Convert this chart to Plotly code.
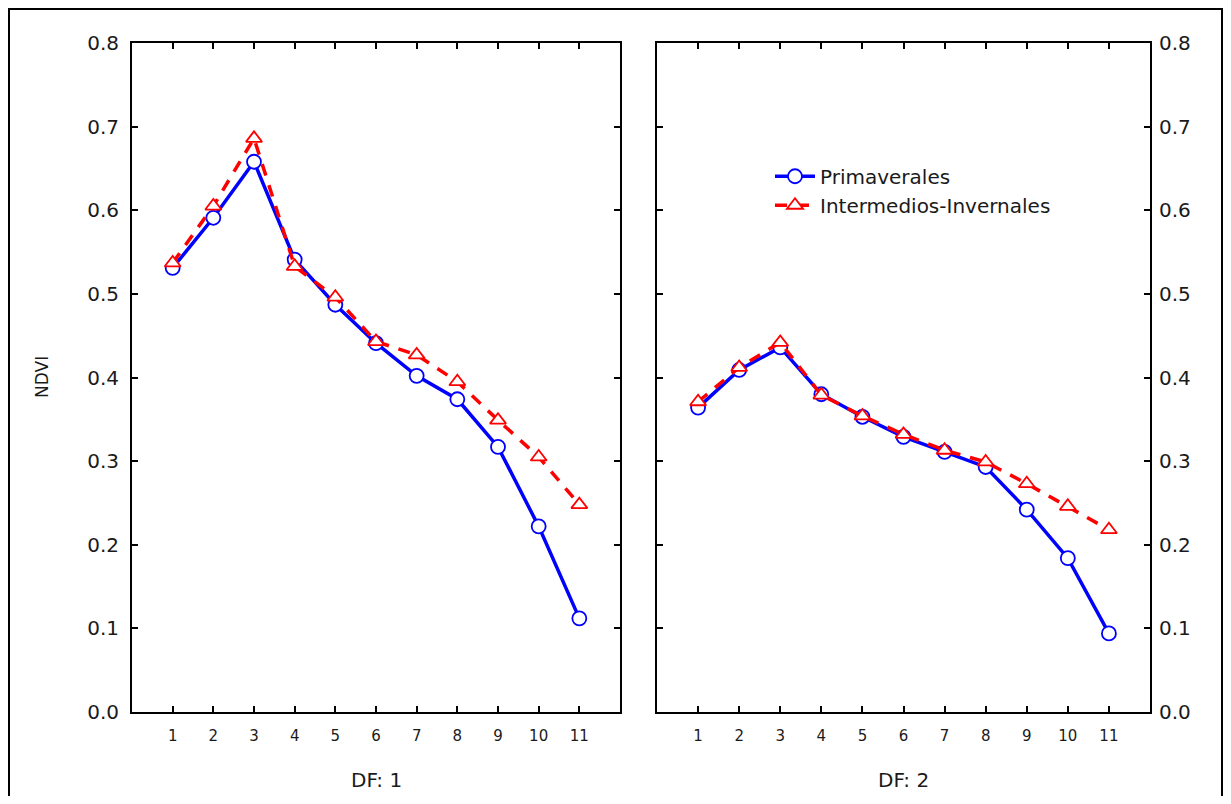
import plotly.graph_objects as go

x_vals = [1, 2, 3, 4, 5, 6, 7, 8, 9, 10, 11]
x_ticklabels = ["1", "2", "3", "4", "5", "6", "7", "8", "9", "10", "11"]

df1_primaverales = [0.531, 0.591, 0.658, 0.541, 0.487, 0.441, 0.402, 0.374, 0.317, 0.222, 0.112]
df1_intermedios = [0.537, 0.605, 0.686, 0.533, 0.496, 0.443, 0.427, 0.395, 0.349, 0.305, 0.248]
df2_primaverales = [0.364, 0.409, 0.436, 0.380, 0.353, 0.329, 0.311, 0.293, 0.242, 0.184, 0.094]
df2_intermedios = [0.371, 0.412, 0.442, 0.379, 0.354, 0.332, 0.313, 0.299, 0.273, 0.246, 0.218]

series_names = ["Primaverales", "Intermedios-Invernales"]
panel_titles = ["DF: 1", "DF: 2"]
y_title = "NDVI"
y_ticks = [0.0, 0.1, 0.2, 0.3, 0.4, 0.5, 0.6, 0.7, 0.8]

BLUE = "#0000ff"
RED = "#ff0000"
FONT = "DejaVu Sans, Verdana, sans-serif"
TXT = "#1a1a1a"

fig = go.Figure()

def add_pair(prim, inter, xa, ya, show):
    fig.add_trace(go.Scatter(
        x=x_vals, y=prim, mode="lines+markers", name=series_names[0],
        line=dict(color=BLUE, width=3.5),
        marker=dict(symbol="circle", size=14, color="white", line=dict(color=BLUE, width=1.8)),
        xaxis=xa, yaxis=ya, showlegend=show, legendrank=1,
    ))
    fig.add_trace(go.Scatter(
        x=x_vals, y=inter, mode="lines+markers", name=series_names[1],
        line=dict(color=RED, width=3.5, dash="12px,10px"),
        marker=dict(symbol="triangle-up", size=14, color="white", line=dict(color=RED, width=1.8)),
        xaxis=xa, yaxis=ya, showlegend=show, legendrank=2,
    ))

add_pair(df1_primaverales, df1_intermedios, "x", "y", True)
add_pair(df2_primaverales, df2_intermedios, "x2", "y2", False)

xaxis_common = dict(
    range=[0, 12], tickvals=x_vals, ticktext=x_ticklabels,
    ticks="inside", ticklen=6, tickwidth=2, tickcolor="black",
    showline=True, linecolor="black", linewidth=2, mirror="ticks",
    showgrid=False, zeroline=False,
    tickfont=dict(family=FONT, size=15, color=TXT),
    ticklabelstandoff=9,
)

def yaxis_common(standoff):
    return dict(
        range=[0, 0.8], tickvals=y_ticks, ticktext=[f"{v:.1f}" for v in y_ticks],
        ticks="inside", ticklen=6, tickwidth=2, tickcolor="black",
        showline=True, linecolor="black", linewidth=2, mirror="ticks",
        showgrid=False, zeroline=False,
        tickfont=dict(family=FONT, size=20, color=TXT),
        ticklabelstandoff=standoff,
    )

d1 = [0, 488 / 1018]
d2 = [525 / 1018, 1]

# page is offset by the 8px body margin; plot area sits at page x 132..1150, y 43..712
fig.update_layout(
    width=1215, height=788,
    margin=dict(l=124, r=73, t=35, b=84),
    paper_bgcolor="white", plot_bgcolor="white",
    xaxis=dict(domain=d1, anchor="y", **xaxis_common),
    yaxis=dict(domain=[0, 1], anchor="x", **yaxis_common(7)),
    xaxis2=dict(domain=d2, anchor="y2", **xaxis_common),
    yaxis2=dict(domain=[0, 1], anchor="x2", side="right", **yaxis_common(3)),
    legend=dict(
        x=(770 - 132) / 1018, y=0.83, xanchor="left", yanchor="top",
        bgcolor="rgba(0,0,0,0)", borderwidth=0,
        font=dict(family=FONT, size=20, color=TXT),
        tracegroupgap=0, itemwidth=40,
    ),
    shapes=[dict(
        type="rect", xref="paper", yref="paper",
        x0=(9 - 132) / 1018, x1=(1222 - 132) / 1018,
        y0=-0.3, y1=1 + (43 - 9) / 669,
        line=dict(color="black", width=2), layer="below",
    )],
    annotations=[
        dict(text=panel_titles[0], xref="paper", yref="paper",
             x=(d1[0] + d1[1]) / 2, y=-(780 - 712) / 669, xanchor="center", yanchor="middle",
             showarrow=False, font=dict(family=FONT, size=20, color=TXT)),
        dict(text=panel_titles[1], xref="paper", yref="paper",
             x=(d2[0] + d2[1]) / 2, y=-(780 - 712) / 669, xanchor="center", yanchor="middle",
             showarrow=False, font=dict(family=FONT, size=20, color=TXT)),
        dict(text=y_title, xref="paper", yref="paper",
             x=(42 - 132) / 1018, y=1 - (377 - 43) / 669, xanchor="center", yanchor="middle",
             textangle=-90, showarrow=False, font=dict(family=FONT, size=17, color=TXT)),
    ],
)

fig.write_html("out.html")
